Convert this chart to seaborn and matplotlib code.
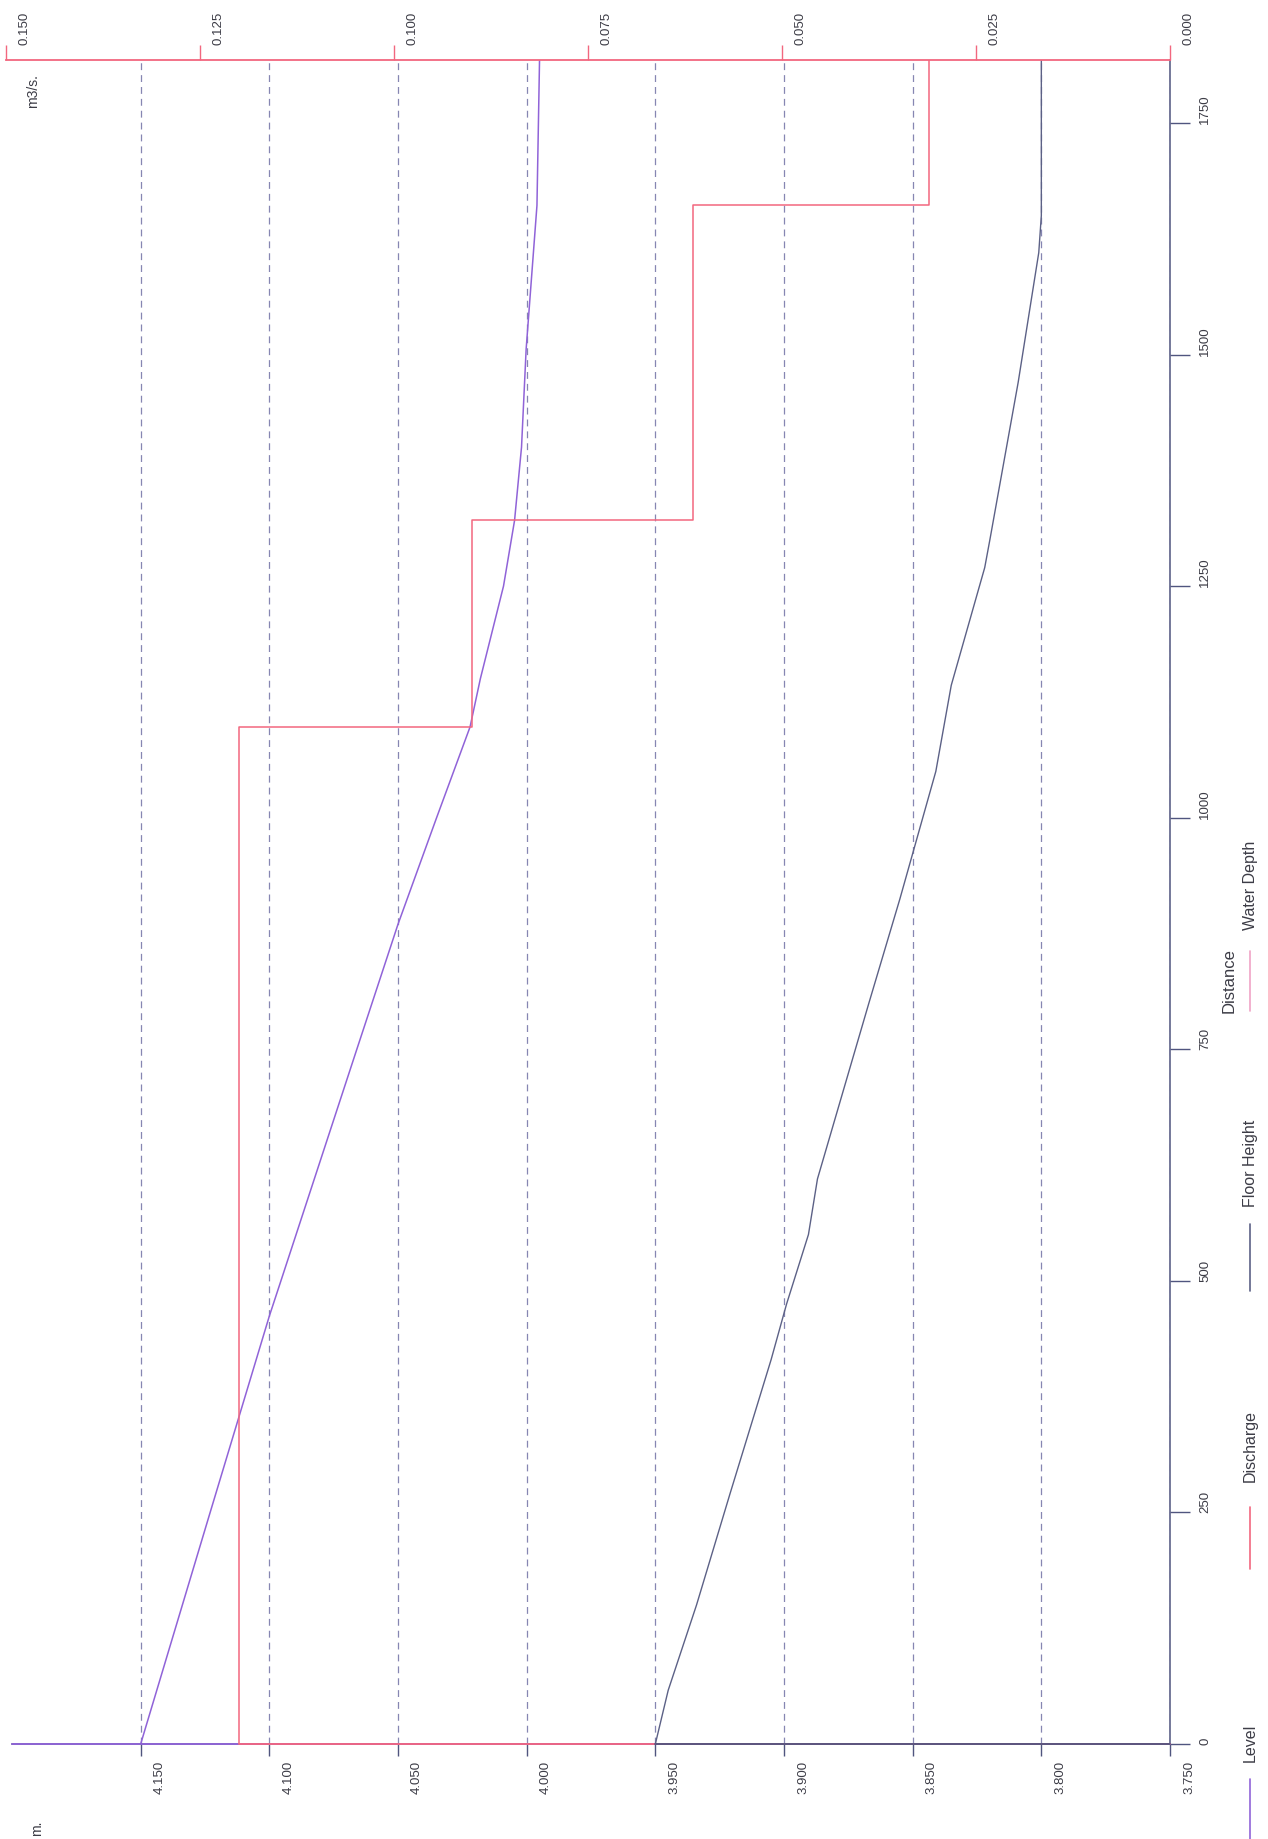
import numpy as np
import matplotlib
matplotlib.use("Agg")
import matplotlib.pyplot as plt
from matplotlib.lines import Line2D
from matplotlib.transforms import ScaledTranslation
import seaborn as sns

# Longitudinal profile of the channel, distance in m from the upstream end
level_distance = [0, 250, 462, 500, 750, 885, 1000, 1098, 1150, 1200, 1250,
                  1321, 1400, 1506, 1661, 1818]
level_m = [4.150, 4.123, 4.100, 4.0955, 4.066, 4.050, 4.035, 4.022, 4.018,
           4.0135, 4.009, 4.0047, 4.002, 4.0002, 3.996, 3.995]

floor_distance = [0, 58, 150, 270, 415, 475, 550, 610, 800, 912, 1050, 1143,
                  1270, 1300, 1470, 1610, 1650, 1818]
floor_m = [3.950, 3.945, 3.934, 3.921, 3.905, 3.899, 3.8905, 3.887, 3.867,
           3.855, 3.841, 3.835, 3.822, 3.820, 3.809, 3.801, 3.800, 3.800]

# Discharge is constant within each reach
reach_breaks = [0, 1098, 1321, 1661, 1818]
discharge_m3s = [0.120, 0.090, 0.0615, 0.031]

level_ticks = [3.75, 3.80, 3.85, 3.90, 3.95, 4.00, 4.05, 4.10, 4.15]
discharge_ticks = [0.0, 0.025, 0.05, 0.075, 0.10, 0.125, 0.15]
distance_ticks = [0, 250, 500, 750, 1000, 1250, 1500, 1750]
legend_labels = ["Level", "Discharge", "Floor Height", "Water Depth"]

LEVEL_C = "#9063d8"
DISCH_C = "#f2677f"
FLOOR_C = "#5c6186"
DEPTH_C = "#f0a3c6"
GRID_C = "#8686b2"
TEXT_C = "#3c3c46"
AXIS_C = "#50557f"

W, H, DPI = 1268, 1840, 100

sns.set_style("white")
plt.rcParams["font.family"] = ["Liberation Sans", "DejaVu Sans"]

fig = plt.figure(figsize=(W / DPI, H / DPI), dpi=DPI)
fig.patch.set_facecolor("white")


def fx(px):
    return px / W


def fy(py):
    return 1 - py / H


# Distance runs up the page; level and discharge decrease to the right
ax = fig.add_axes([fx(12), fy(1745), fx(1170) - fx(12), fy(61) - fy(1745)])
ax2 = fig.add_axes([fx(6), fy(1745), fx(1170) - fx(6), fy(61) - fy(1745)],
                   sharey=ax)
ax2.patch.set_visible(False)

ax.set_xlim(4.2, 3.75)
ax.set_ylim(0, 1818)
ax2.set_xlim(0.15, 0.0)

# Level and floor profiles
sns.lineplot(x=level_m, y=level_distance, estimator=None, sort=False, ax=ax,
             color=LEVEL_C, lw=1.1, legend=False)
sns.lineplot(x=floor_m, y=floor_distance, estimator=None, sort=False, ax=ax,
             color=FLOOR_C, lw=1.0, legend=False)

# Stepped discharge
step_d = np.repeat(reach_breaks, 2)[1:-1]
step_q = np.repeat(discharge_m3s, 2)
sns.lineplot(x=step_q, y=step_d, estimator=None, sort=False, ax=ax2,
             color=DISCH_C, lw=1.1, legend=False)

# Each series closes down to the axis floor at distance 0
lo, hi = ax.get_xlim()
ax.plot([lo, hi], [0, 0], color=LEVEL_C, lw=1.3, clip_on=False, zorder=5)
ax2.plot([discharge_m3s[0], 0.0], [0, 0], color=DISCH_C, lw=1.3,
         clip_on=False, zorder=5)
ax2.plot([floor_m[0], hi], [0, 0], transform=ax.transData, color=AXIS_C,
         lw=1.3, clip_on=False, zorder=6)
ax.set_xlim(lo, hi)
ax2.set_xlim(0.15, 0.0)
ax.set_ylim(0, 1818)

# Vertical dashed grid at the level ticks
ax.set_axisbelow(True)
ax.set_xticks(level_ticks)
ax.set_xticklabels([f"{v:.3f}" for v in level_ticks])
ax.grid(axis="x", color=GRID_C, lw=0.9, linestyle=(0, (5.5, 4)))
ax.grid(axis="y", visible=False)

for side in ["left", "top"]:
    ax.spines[side].set_visible(False)
for side in ["right", "bottom"]:
    ax.spines[side].set_color(AXIS_C)
    ax.spines[side].set_linewidth(1.1)
for side in ["left", "right", "bottom"]:
    ax2.spines[side].set_visible(False)
ax2.spines["top"].set_color(DISCH_C)
ax2.spines["top"].set_linewidth(1.3)

ax.tick_params(axis="x", bottom=True, top=False, direction="out", length=8.6,
               width=1, color=AXIS_C, pad=2.5, labelsize=9.5,
               labelcolor=TEXT_C, labelrotation=90)
off_x = ScaledTranslation(19 / DPI, 0, fig.dpi_scale_trans)
for lab in ax.get_xticklabels():
    lab.set_transform(lab.get_transform() + off_x)

ax.yaxis.tick_right()
ax.set_yticks(distance_ticks)
ax.set_yticklabels([str(v) for v in distance_ticks])
ax.tick_params(axis="y", right=True, left=False, direction="out", length=14.4,
               width=1, color=AXIS_C, pad=6.5, labelsize=9.5,
               labelcolor=TEXT_C, labelrotation=90)
for lab in ax.get_yticklabels():
    lab.set_verticalalignment("bottom")
    lab.set_horizontalalignment("left")

ax2.xaxis.tick_top()
ax2.set_xticks(discharge_ticks)
ax2.set_xticklabels([f"{v:.3f}" for v in discharge_ticks])
ax2.tick_params(axis="x", top=True, bottom=False, direction="out",
                length=10.8, width=1, color=DISCH_C, pad=0.5, labelsize=9.5,
                labelcolor=TEXT_C, labelrotation=90)
off_top = ScaledTranslation(18 / DPI, 0, fig.dpi_scale_trans)
for lab in ax2.get_xticklabels():
    lab.set_transform(lab.get_transform() + off_top)
ax2.tick_params(axis="y", left=False, right=False, labelleft=False,
                labelright=False)
ax2.set_xlabel("")
ax2.set_ylabel("")
ax.set_xlabel("")
ax.set_ylabel("")

# Unit labels and axis title
fig.text(fx(33), fy(91), "m3/s.", rotation=90, ha="center", va="center",
         fontsize=10, color=TEXT_C)
fig.text(fx(37), fy(1828), "m.", rotation=90, ha="center", va="center",
         fontsize=10, color=TEXT_C)
fig.text(fx(1229), fy(981), "Distance", rotation=90, ha="center",
         va="center", fontsize=12, color=TEXT_C)

# Legend row, running up the right margin
legend_colors = [LEVEL_C, DISCH_C, FLOOR_C, DEPTH_C]
legend_line_px = [(1842, 1780), (1570, 1508), (1292, 1225), (1012, 952)]
legend_text_px = [1762, 1482, 1207, 930]
for label, col, (y0, y1), ty in zip(legend_labels, legend_colors,
                                    legend_line_px, legend_text_px):
    fig.add_artist(Line2D([fx(1250), fx(1250)], [fy(y0), fy(y1)],
                          transform=fig.transFigure, color=col, lw=1.2))
    fig.text(fx(1250), fy(ty), label, rotation=90, ha="center", va="bottom",
             fontsize=11.5, color=TEXT_C)

fig.savefig("out.png", dpi=DPI, facecolor="white")
